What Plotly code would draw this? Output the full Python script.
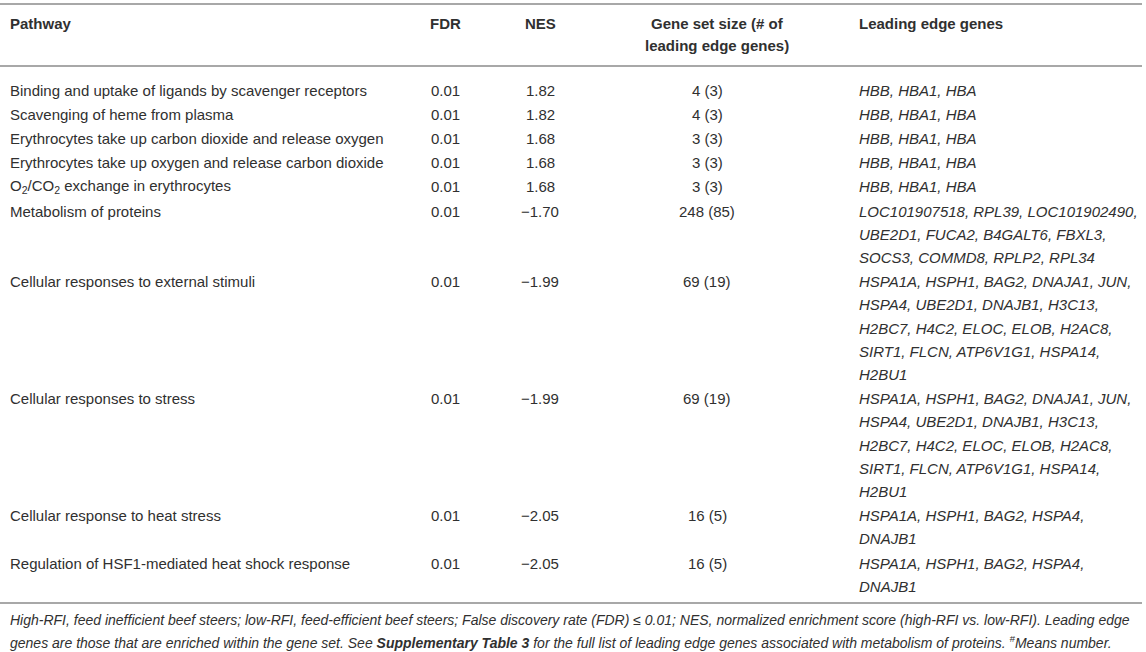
import plotly.graph_objects as go

# table content
pathways = [
    "Binding and uptake of ligands by scavenger receptors",
    "Scavenging of heme from plasma",
    "Erythrocytes take up carbon dioxide and release oxygen",
    "Erythrocytes take up oxygen and release carbon dioxide",
    "O<sub>2</sub>/CO<sub>2</sub> exchange in erythrocytes",
    "Metabolism of proteins",
    "Cellular responses to external stimuli",
    "Cellular responses to stress",
    "Cellular response to heat stress",
    "Regulation of HSF1-mediated heat shock response",
]
fdr = ["0.01"] * 10
nes = ["1.82", "1.82", "1.68", "1.68", "1.68", "\u22121.70", "\u22121.99", "\u22121.99", "\u22122.05", "\u22122.05"]
gene_set_size = ["4 (3)", "4 (3)", "3 (3)", "3 (3)", "3 (3)", "248 (85)", "69 (19)", "69 (19)", "16 (5)", "16 (5)"]

stress_genes = [
    "HSPA1A, HSPH1, BAG2, DNAJA1, JUN,",
    "HSPA4, UBE2D1, DNAJB1, H3C13,",
    "H2BC7, H4C2, ELOC, ELOB, H2AC8,",
    "SIRT1, FLCN, ATP6V1G1, HSPA14,",
    "H2BU1",
]
heat_genes = ["HSPA1A, HSPH1, BAG2, HSPA4,", "DNAJB1"]
leading_edge = [
    ["HBB, HBA1, HBA"],
    ["HBB, HBA1, HBA"],
    ["HBB, HBA1, HBA"],
    ["HBB, HBA1, HBA"],
    ["HBB, HBA1, HBA"],
    ["LOC101907518, RPL39, LOC101902490,",
     "UBE2D1, FUCA2, B4GALT6, FBXL3,",
     "SOCS3, COMMD8, RPLP2, RPL34"],
    stress_genes,
    stress_genes,
    heat_genes,
    heat_genes,
]

headers = ["Pathway", "FDR", "NES", "Gene set size (# of<br>leading edge genes)", "Leading edge genes"]

footnote = [
    "High-RFI, feed inefficient beef steers; low-RFI, feed-efficient beef steers; False discovery rate (FDR) \u2264 0.01; "
    "NES, normalized enrichment score (high-RFI vs. low-RFI). Leading edge",
    "genes are those that are enriched within the gene set. See <b>Supplementary Table 3</b> for the full list of "
    "leading edge genes associated with metabolism of proteins. <sup>#</sup>Means number.",
]

W, H = 1146, 652
FONT = "Liberation Sans, Arial, sans-serif"
TEXT = "#303030"
RULE = "#a8a8a8"
LINE = 23.2
PAD = 1.0

fig = go.Figure()
ann = []


def cell(x, y, text, anchor="left", size=15, bold=False, italic=False):
    if bold:
        text = f"<b>{text}</b>"
    if italic:
        text = f"<i>{text}</i>"
    ann.append(dict(x=x, y=y, xref="x", yref="y", text=text, showarrow=False,
                    xanchor=anchor, yanchor="middle", align=anchor,
                    font=dict(family=FONT, size=size, color=TEXT)))


# header
hx = [(8, "left"), (445, "center"), (540, "center"), (717, "center"), (857, "left")]
for (x, a), h in zip(hx, headers):
    if "<br>" in h:
        for i, part in enumerate(h.split("<br>")):
            cell(x, 23 + i * 22, part, a, bold=True)
    else:
        cell(x, 23, h, a, bold=True)

# body rows
y = 90
for p, f, n, g, genes in zip(pathways, fdr, nes, gene_set_size, leading_edge):
    cell(8, y, p)
    cell(445, y, f, "center")
    cell(540, y, n, "center")
    cell(707, y, g, "center")
    for i, line in enumerate(genes):
        cell(857, y + i * LINE, line, italic=True)
    y += len(genes) * LINE + PAD

# footnote
for i, line in enumerate(footnote):
    cell(8, 620 + i * 22, line, size=14, italic=True)

for ry in [4, 66, 603]:
    fig.add_shape(type="line", x0=0, x1=1142, y0=ry, y1=ry, xref="x", yref="y",
                  line=dict(color=RULE, width=2))

fig.update_layout(
    width=W, height=H,
    margin=dict(l=0, r=0, t=0, b=0),
    paper_bgcolor="white", plot_bgcolor="white",
    xaxis=dict(range=[0, W], visible=False, fixedrange=True),
    yaxis=dict(range=[H, 0], visible=False, fixedrange=True),
    annotations=ann,
    showlegend=False,
)

# drop the browser's default page margin so the figure sits at the corner
fig.write_html("out.html", post_script="document.body.style.margin='0';",
               config={"displayModeBar": False})
